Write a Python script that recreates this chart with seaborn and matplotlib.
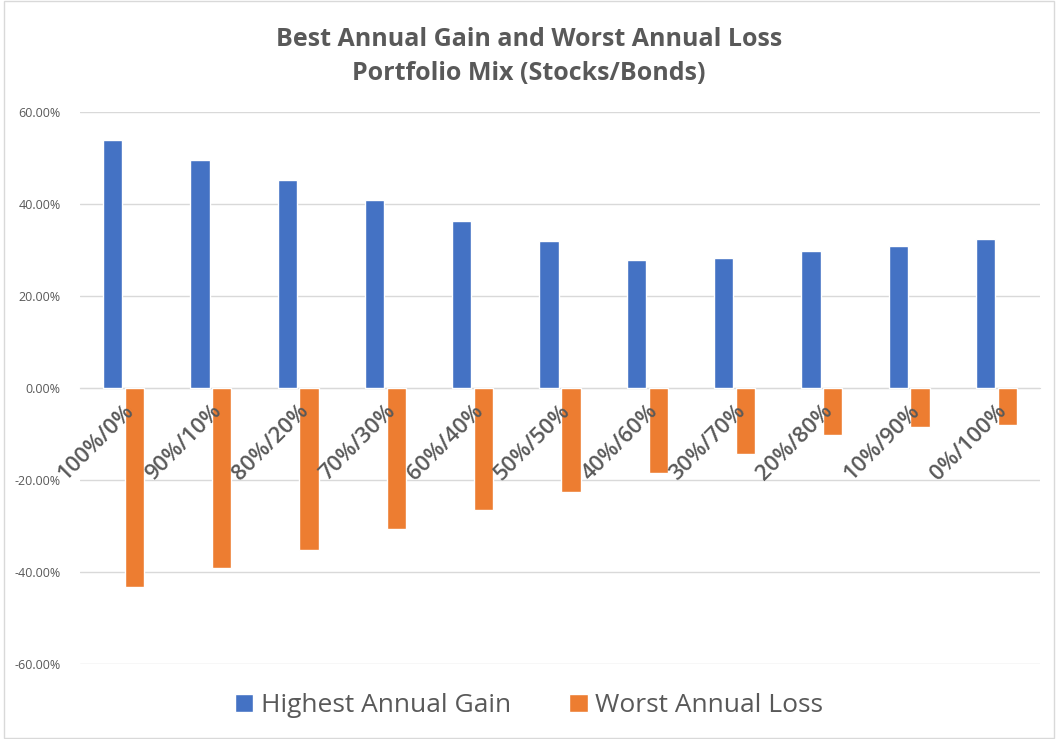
import pandas as pd
import matplotlib.pyplot as plt
import matplotlib.ticker as mticker
import seaborn as sns

# -----------------------------------
# DATA
# -----------------------------------
mixes = ["100%/0%", "90%/10%", "80%/20%", "70%/30%", "60%/40%", "50%/50%",
         "40%/60%", "30%/70%", "20%/80%", "10%/90%", "0%/100%"]
best_gain = [0.539, 0.496, 0.452, 0.409, 0.363, 0.320, 0.278, 0.283, 0.298, 0.309, 0.324]
worst_loss = [-0.433, -0.391, -0.352, -0.307, -0.265, -0.226, -0.185, -0.143, -0.102, -0.084, -0.080]
series_names = ["Highest Annual Gain", "Worst Annual Loss"]
y_ticks = [-0.6, -0.4, -0.2, 0.0, 0.2, 0.4, 0.6]

df = pd.DataFrame({
    "mix": mixes * 2,
    "value": best_gain + worst_loss,
    "series": [series_names[0]] * len(mixes) + [series_names[1]] * len(mixes),
})

# -----------------------------------
# VISUAL SETTINGS
# -----------------------------------
sns.set_style("white")
plt.rcParams["font.family"] = ["Open Sans", "DejaVu Sans"]
grey = "#595959"

fig = plt.figure(figsize=(10.58, 7.39), dpi=100)
ax = fig.add_axes([0.0756, 0.1015, 0.9074, 0.7469])

# gridlines drawn by hand so they stay behind bars while tick labels sit on top
for yv in y_ticks:
    ax.axhline(yv, color="#d9d9d9", linewidth=1, zorder=0.5)

sns.barplot(data=df, x="mix", y="value", hue="series",
            palette=["#4472C4", "#ED7D31"], width=0.5, gap=0.12,
            saturation=1, ax=ax, legend=True)

# -----------------------------------
# AXES
# -----------------------------------
ax.set_ylim(-0.6, 0.6)
ax.set_xlim(-0.5, len(mixes) - 0.5)
ax.set_yticks(y_ticks)
ax.yaxis.set_major_formatter(mticker.FuncFormatter(lambda v, p: f"{v*100:.2f}%"))
ax.grid(False)
ax.set_axisbelow(False)
for s in ["top", "right", "left"]:
    ax.spines[s].set_visible(False)
ax.spines["bottom"].set_position(("data", 0))
ax.spines["bottom"].set_color("#d9d9d9")
ax.spines["bottom"].set_zorder(0.5)
ax.tick_params(axis="y", length=0, labelsize=9, labelcolor=grey, pad=14)
ax.tick_params(axis="x", length=0, labelsize=16, labelcolor=grey, pad=9)
for lab in ax.get_xticklabels():
    lab.set_rotation(45)
    lab.set_ha("right")
    lab.set_va("top")
    lab.set_rotation_mode("anchor")
    lab.set_fontweight("semibold")
ax.set_xlabel("")
ax.set_ylabel("")

# -----------------------------------
# TITLE AND LEGEND
# -----------------------------------
fig.text(0.5, 0.9235, "Best Annual Gain and Worst Annual Loss\nPortfolio Mix (Stocks/Bonds)",
         ha="center", va="center", fontsize=18, fontweight="bold", color=grey,
         linespacing=1.5)

handles, labels = ax.get_legend_handles_labels()
ax.legend_.remove()
fig.legend(handles, labels, loc="center", bbox_to_anchor=(0.5, 0.045), ncol=2,
           frameon=False, fontsize=19, labelcolor=grey, handlelength=0.7,
           handleheight=0.7, handletextpad=0.3, columnspacing=2.2)

fig.patches.append(plt.Rectangle((0.004, 0.002), 0.992, 0.996, transform=fig.transFigure,
                                 fill=False, edgecolor="#d9d9d9", linewidth=1))

fig.savefig("out.png", dpi=100)
